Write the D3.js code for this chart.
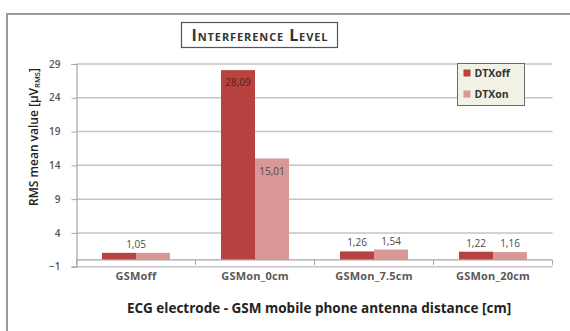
<!DOCTYPE html>
<html>
<head>
<meta charset="utf-8">
<script src="https://cdn.jsdelivr.net/npm/d3@7"></script>
<style>
  html, body { margin: 0; padding: 0; background: #fff; }
  svg { display: block; font-family: "Open Sans", Lato, sans-serif; }
</style>
</head>
<body>
<svg id="chart" width="570" height="331"></svg>
<script>
// Interference level per measurement condition
const categories = ["GSMoff", "GSMon_0cm", "GSMon_7.5cm", "GSMon_20cm"];
const seriesNames = ["DTXoff", "DTXon"];
const dtxOff = [1.05, 28.09, 1.26, 1.22];
const dtxOn = [1.05, 15.01, 1.54, 1.16];
const labelsOff = ["", "28,09", "1,26", "1,22"];
const labelsOn = ["", "15,01", "1,54", "1,16"];
const pairLabels = ["1,05", "", "", ""];
const yTicks = [-1, 4, 9, 14, 19, 24, 29];
const colors = ["#b8423f", "#d99795"];

const svg = d3.select("#chart");

// Outer chart frame
svg.append("rect")
  .attr("x", 7).attr("y", 14).attr("width", 580).attr("height", 340)
  .attr("fill", "#fff").attr("stroke", "#9a9a9a").attr("stroke-width", 2);

const plot = { left: 76.5, right: 552.5, top: 64, bottom: 266.7 };

const x = d3.scaleBand().domain(categories)
  .range([plot.left, plot.right]).paddingInner(0).paddingOuter(0);
const xs = d3.scaleBand().domain(seriesNames)
  .range([0, x.bandwidth()]).paddingOuter(0.75).paddingInner(0);
const y = d3.scaleLinear().domain([-1, 29]).range([plot.bottom, plot.top]);

// Horizontal gridlines
svg.append("g").selectAll("line").data(yTicks).join("line")
  .attr("x1", plot.left).attr("x2", plot.right)
  .attr("y1", d => y(d)).attr("y2", d => y(d))
  .attr("stroke", "#c4c4c4").attr("stroke-width", 1.5);

// Y axis
const yAxis = svg.append("g")
  .attr("transform", `translate(${plot.left},0)`)
  .call(d3.axisLeft(y).tickValues(yTicks).tickSize(5).tickPadding(11).tickFormat(d3.format("d")));
yAxis.select(".domain").attr("stroke", "#a6a6a6").attr("stroke-width", 1.2);
yAxis.selectAll(".tick line").attr("stroke", "#a6a6a6");
yAxis.selectAll(".tick text").attr("fill", "#555").attr("font-size", 10)
  .attr("font-family", "'Open Sans', sans-serif").attr("font-weight", 600);

// Bars
const rows = categories.map((c, i) => ({ c, i, vals: [dtxOff[i], dtxOn[i]] }));
const groups = svg.append("g").selectAll("g").data(rows).join("g")
  .attr("transform", d => `translate(${x(d.c)},0)`);
groups.selectAll("rect").data(d => d.vals.map((v, k) => ({ v, k })))
  .join("rect")
  .attr("x", d => xs(seriesNames[d.k]))
  .attr("width", xs.bandwidth())
  .attr("y", d => y(d.v))
  .attr("height", d => y(0) - y(d.v))
  .attr("fill", d => colors[d.k]);

// X axis at zero
const xAxis = svg.append("g")
  .attr("transform", `translate(0,${y(0)})`);
xAxis.append("line")
  .attr("x1", plot.left).attr("x2", plot.right)
  .attr("stroke", "#a6a6a6").attr("stroke-width", 1.2);
const bounds = categories.map(c => x(c)).concat([plot.right]);
xAxis.selectAll("line.tk").data(bounds).join("line").attr("class", "tk")
  .attr("x1", d => d).attr("x2", d => d).attr("y1", 0).attr("y2", 5)
  .attr("stroke", "#a6a6a6");

// Category labels
svg.append("g").selectAll("text").data(categories).join("text")
  .attr("x", d => x(d) + x.bandwidth() / 2)
  .attr("y", 279.5)
  .attr("text-anchor", "middle")
  .attr("font-size", 11).attr("font-weight", 700).attr("fill", "#595959")
  .style("letter-spacing", "0.2px")
  .text(d => d);

// Value labels
const labelData = [];
categories.forEach((c, i) => {
  [dtxOff[i], dtxOn[i]].forEach((v, k) => {
    const t = (k === 0 ? labelsOff : labelsOn)[i];
    if (!t) return;
    const inside = v > 10;
    labelData.push({
      x: x(c) + xs(seriesNames[k]) + xs.bandwidth() / 2,
      y: inside ? y(v) + 16 : y(v) - 5,
      t,
      fill: inside && k === 0 ? "#5a1f1e" : "#4a4a4a"
    });
  });
  if (pairLabels[i]) {
    labelData.push({ x: x(c) + x.bandwidth() / 2, y: y(Math.max(dtxOff[i], dtxOn[i])) - 5, t: pairLabels[i], fill: "#4a4a4a" });
  }
});
svg.append("g").selectAll("text").data(labelData).join("text")
  .attr("x", d => d.x).attr("y", d => d.y)
  .attr("text-anchor", "middle")
  .attr("font-size", 10).attr("fill", d => d.fill)
  .text(d => d.t);

// Title
svg.append("rect")
  .attr("x", 181.5).attr("y", 22.5).attr("width", 156).attr("height", 25)
  .attr("fill", "#fff").attr("stroke", "#555").attr("stroke-width", 1.2);
svg.append("text")
  .attr("x", 260).attr("y", 41)
  .attr("text-anchor", "middle")
  .attr("font-size", 16).attr("font-weight", 700).attr("fill", "#333")
  .style("font-variant", "small-caps")
  .style("letter-spacing", "0.9px")
  .text("Interference Level");

// Legend
const lg = svg.append("g").attr("transform", "translate(457.5,63.5)");
lg.append("rect").attr("width", 67).attr("height", 42)
  .attr("fill", "#f1f1e6").attr("stroke", "#6b6b6b").attr("stroke-width", 1);
seriesNames.forEach((s, k) => {
  lg.append("rect").attr("x", 6).attr("y", 6 + k * 21).attr("width", 7).attr("height", 7)
    .attr("fill", colors[k]);
  lg.append("text").attr("x", 17).attr("y", 13.5 + k * 21)
    .attr("font-size", 10.5).attr("font-weight", 700).attr("fill", "#333").text(s);
});

// Axis titles
const yt = svg.append("text")
  .attr("transform", "translate(38,137) rotate(-90)")
  .attr("text-anchor", "middle")
  .attr("font-size", 12).attr("font-weight", 600).attr("fill", "#222");
yt.append("tspan").text("RMS mean value [µV");
yt.append("tspan").attr("font-size", 7.5).attr("dy", 2).text("RMS");
yt.append("tspan").attr("dy", -2).text("]");

svg.append("text")
  .attr("x", 319).attr("y", 313)
  .attr("text-anchor", "middle")
  .attr("font-size", 13.5).attr("font-weight", 700).attr("fill", "#222")
  .text("ECG electrode - GSM mobile phone antenna distance [cm]");
</script>
</body>
</html>
